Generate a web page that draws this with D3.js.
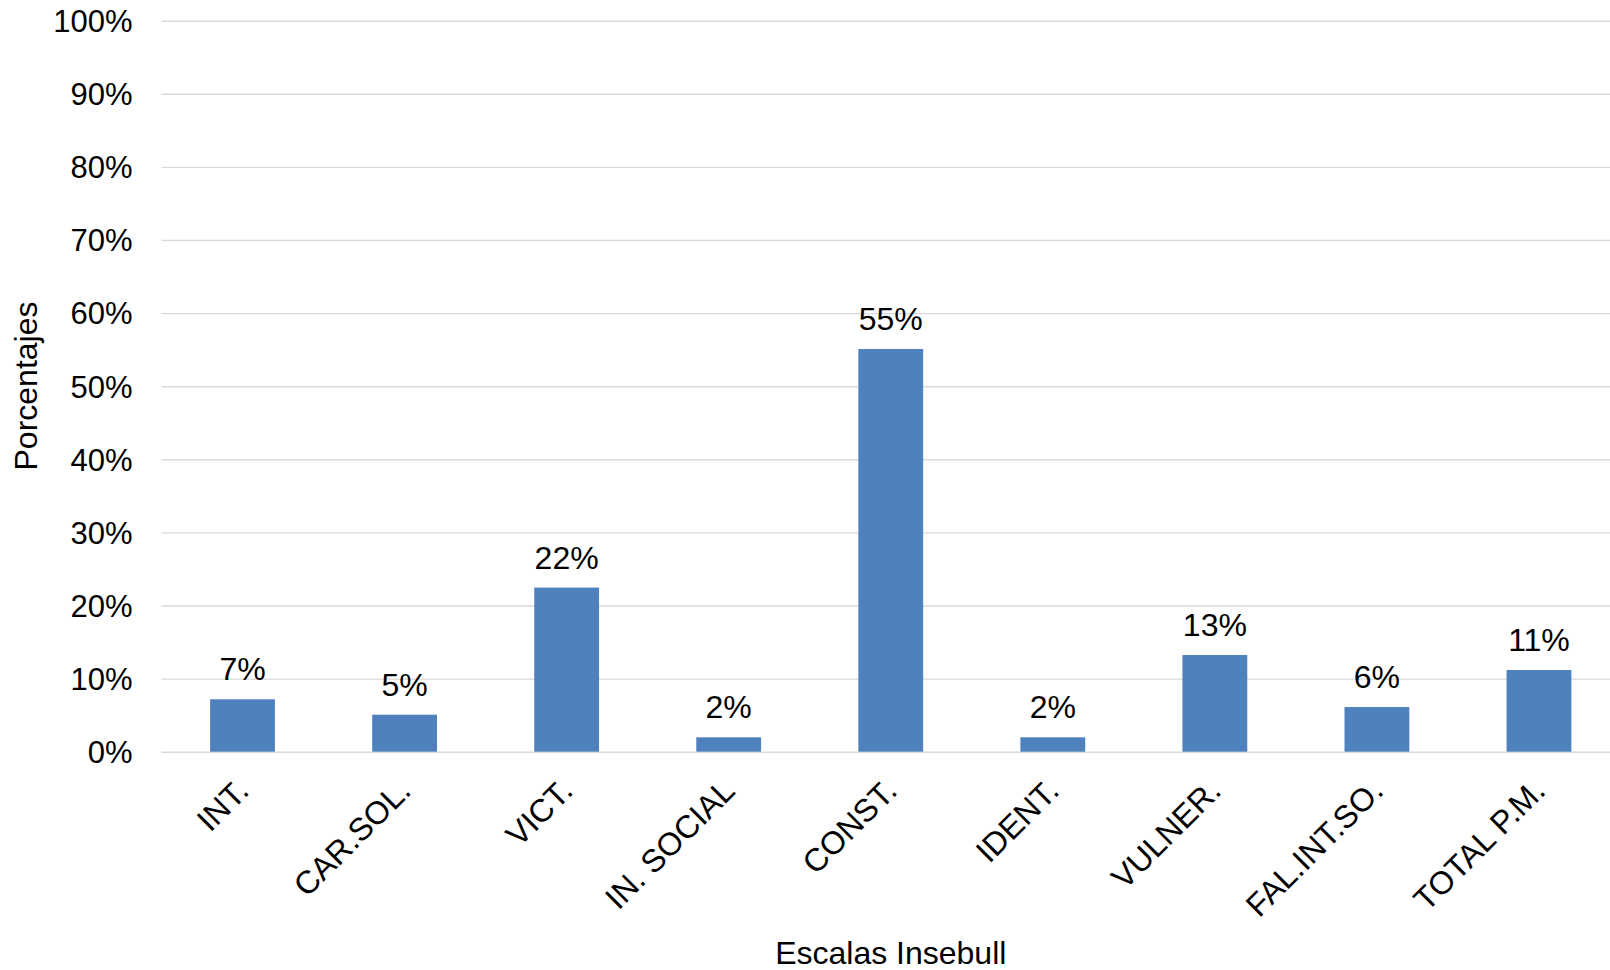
<!DOCTYPE html>
<html>
<head>
<meta charset="utf-8">
<script src="https://cdn.jsdelivr.net/npm/d3@7"></script>
<style>
  html, body { margin: 0; padding: 0; background: #ffffff; overflow: hidden; }
  svg { display: block; }
  text { font-family: "Liberation Sans", Arial, sans-serif; fill: #000000; }
</style>
</head>
<body>
<svg id="chart" width="1610" height="970"></svg>
<script>
// Escalas Insebull: share of cases per scale
const categories = ["INT.", "CAR.SOL.", "VICT.", "IN. SOCIAL", "CONST.", "IDENT.", "VULNER.", "FAL.INT.SO.", "TOTAL P.M."];
const values = [0.0717, 0.0506, 0.2245, 0.0197, 0.5509, 0.0197, 0.1323, 0.0611, 0.1118];
const yTicks = [0, 0.1, 0.2, 0.3, 0.4, 0.5, 0.6, 0.7, 0.8, 0.9, 1.0];
const yTitle = "Porcentajes";
const xTitle = "Escalas Insebull";

const FS = 32;
const svg = d3.select("#chart");
const W = 1610, H = 970;
// plot area runs slightly past the right edge of the canvas
const margin = { top: 20.7, right: -10, bottom: H - 751.7, left: 161.5 };
const innerW = W - margin.left - margin.right;
const innerH = H - margin.top - margin.bottom;

const g = svg.append("g").attr("transform", `translate(${margin.left},${margin.top})`);

const x = d3.scaleBand()
  .domain(categories)
  .range([0, innerW])
  .paddingInner(0.6)
  .paddingOuter(0.3);

const y = d3.scaleLinear().domain([0, 1]).range([innerH, 0]);
const pct = d3.format(".0%");

// horizontal gridlines + y tick labels
const yAxis = d3.axisLeft(y)
  .tickValues(yTicks)
  .tickFormat(pct)
  .tickSize(-innerW)
  .tickPadding(29);

const ya = g.append("g").call(yAxis);
ya.select(".domain").remove();
ya.selectAll(".tick line").attr("stroke", "#d9d9d9").attr("stroke-width", 1.4);
ya.selectAll(".tick text")
  .attr("font-size", 31)
  .attr("dy", "0.35em")
  .style("font-family", "'Liberation Sans', Arial, sans-serif")
  .attr("fill", "#000");

const rows = categories.map((c, i) => ({ c, v: values[i] }));

// bars
g.selectAll("rect.bar")
  .data(rows)
  .join("rect")
  .attr("class", "bar")
  .attr("x", d => x(d.c))
  .attr("width", x.bandwidth())
  .attr("y", d => y(d.v))
  .attr("height", d => innerH - y(d.v))
  .attr("fill", "#4f81bd");

// value labels
g.selectAll("text.val")
  .data(rows)
  .join("text")
  .attr("class", "val")
  .attr("x", d => x(d.c) + x.bandwidth() / 2)
  .attr("y", d => y(d.v) - 19)
  .attr("text-anchor", "middle")
  .attr("font-size", FS)
  .text(d => pct(d.v));

// category labels, rotated
const xAxis = d3.axisBottom(x).tickSize(0).tickPadding(0);
const xa = g.append("g").attr("transform", `translate(0,${innerH})`).call(xAxis);
xa.select(".domain").remove();
xa.selectAll(".tick text")
  .attr("font-size", FS)
  .style("font-family", "'Liberation Sans', Arial, sans-serif")
  .attr("fill", "#000")
  .attr("text-anchor", "end")
  .attr("x", 0)
  .attr("y", 0)
  .attr("dy", 0)
  .attr("transform", "translate(8,41) rotate(-45)");

// axis titles
svg.append("text")
  .attr("transform", `translate(37,386) rotate(-90)`)
  .attr("text-anchor", "middle")
  .attr("font-size", FS)
  .text(yTitle);

svg.append("text")
  .attr("x", margin.left + innerW / 2)
  .attr("y", 964)
  .attr("text-anchor", "middle")
  .attr("font-size", FS)
  .text(xTitle);
</script>
</body>
</html>
